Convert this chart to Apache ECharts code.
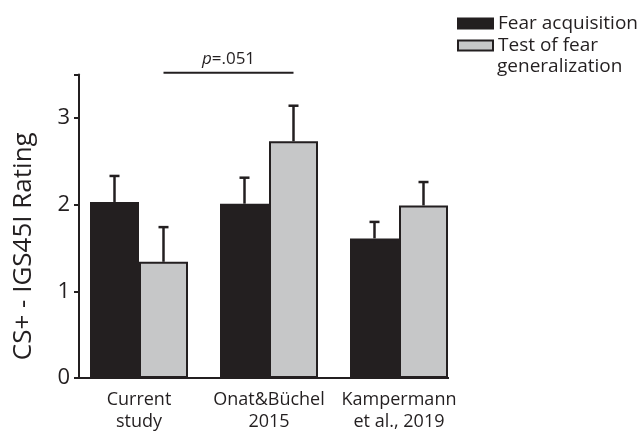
<!DOCTYPE html>
<html><head><meta charset="utf-8">
<script src="https://cdn.jsdelivr.net/npm/echarts@6/dist/echarts.min.js"></script>
<style>html,body{margin:0;padding:0;background:#fff}#c{width:639px;height:433px}</style>
</head><body><div id="c"></div>
<script>
const categories = ['Current\nstudy', 'Onat&Büchel\n2015', 'Kampermann\net al., 2019'];
const seriesNames = ['Fear acquisition', 'Test of fear'];
const acquisition = [2.03, 2.01, 1.61];
const acquisitionUpper = [2.33, 2.31, 1.80];
const generalization = [1.34, 2.73, 1.99];
const generalizationUpper = [1.74, 3.14, 2.26];
const yTicks = [0, 1, 2, 3];
const sigText = '.051';
const sigLevel = 3.52;

const FONT = 'Open Sans';
const DARK = '#231f20';
const GRAY = '#c6c7c8';
const BW = 49;

const errData = [];
acquisition.forEach((v, i) => errData.push([i, 0, v, acquisitionUpper[i]]));
generalization.forEach((v, i) => errData.push([i, 1, v, generalizationUpper[i]]));

const chart = echarts.init(document.getElementById('c'), null, {renderer: 'canvas'});
chart.setOption({
  animation: false,
  textStyle: {fontFamily: FONT},
  grid: {left: 74, width: 390, top: 74.5, bottom: 52.5},
  legend: {
    orient: 'vertical', left: 452, top: 9,
    itemWidth: 35, itemHeight: 10, itemGap: 3,
    textStyle: {fontSize: 19, color: DARK, fontFamily: FONT},
    data: seriesNames.map(n => ({name: n, icon: 'rect'}))
  },
  graphic: [{type: 'text', left: 497, top: 57, style: {text: 'generalization', font: '19px "Open Sans"', fill: DARK}}],
  xAxis: {
    type: 'category', data: categories,
    axisLine: {show: false}, axisTick: {show: false},
    axisLabel: {interval: 0, fontSize: 18, color: DARK, lineHeight: 22, margin: 11, fontFamily: FONT}
  },
  yAxis: {
    type: 'value', min: 0, max: 3.5, interval: 1, offset: -5,
    name: 'CS+ - IGS45I Rating', nameLocation: 'middle', nameGap: 42,
    nameTextStyle: {fontSize: 26, color: DARK, fontFamily: FONT, padding: [0, 40, 0, 0]},
    axisLine: {show: true, lineStyle: {color: DARK, width: 2}},
    axisTick: {show: true, length: 5, lineStyle: {color: DARK, width: 2}},
    splitLine: {show: false},
    axisLabel: {fontSize: 22, color: DARK, margin: 9, fontFamily: FONT,
      formatter: v => yTicks.includes(v) ? String(v) : ''}
  },
  series: [
    {name: seriesNames[0], type: 'bar', data: acquisition, barWidth: BW, barGap: '0%',
     itemStyle: {color: DARK, borderColor: DARK, borderWidth: 2}},
    {name: seriesNames[1], type: 'bar', data: generalization, barWidth: BW, barGap: '0%',
     itemStyle: {color: GRAY, borderColor: DARK, borderWidth: 2}},
    {name: 'err', type: 'custom', data: errData, encode: {x: 0, y: [2, 3]}, z: 5,
     renderItem: function (params, api) {
       const off = (api.value(1) === 0 ? -1 : 1) * BW / 2;
       const top = api.coord([api.value(0), api.value(3)]);
       const base = api.coord([api.value(0), api.value(2)]);
       const x = top[0] + off;
       const st = {stroke: DARK, lineWidth: 2.5};
       return {type: 'group', children: [
         {type: 'line', shape: {x1: x, y1: base[1], x2: x, y2: top[1]}, style: st},
         {type: 'line', shape: {x1: x - 5, y1: top[1], x2: x + 5, y2: top[1]}, style: st}
       ]};
     }},
    {name: 'deco', type: 'custom', data: [[0, 1, sigLevel]], encode: {x: 0, y: 2}, z: 6, clip: false,
     renderItem: function (params, api) {
       const a = api.coord([api.value(0), api.value(2)]);
       const b = api.coord([api.value(1), api.value(2)]);
       const x1 = a[0] + BW / 2, x2 = b[0] + BW / 2;
       const z0 = api.coord([0, 0]);
       const z2 = api.coord([2, 0]);
       const band = api.size([1, 0])[0];
       const gl = z0[0] - band / 2 + 5;
       return {type: 'group', children: [
         {type: 'line', shape: {x1: x1, y1: a[1], x2: x2, y2: a[1]}, style: {stroke: DARK, lineWidth: 2}},
         {type: 'text', x: (x1 + x2) / 2, y: a[1] - 5,
          style: {text: '{i|p}=' + sigText, align: 'center', verticalAlign: 'bottom',
            rich: {i: {fontStyle: 'italic', fontSize: 17, fill: DARK, fontFamily: FONT}},
            font: '17px "Open Sans"', fill: DARK}},
         {type: 'line', shape: {x1: gl - 1, y1: z0[1], x2: z2[0] + BW + 1, y2: z0[1]}, style: {stroke: DARK, lineWidth: 2}}
       ]};
     }}
  ]
});
</script></body></html>
